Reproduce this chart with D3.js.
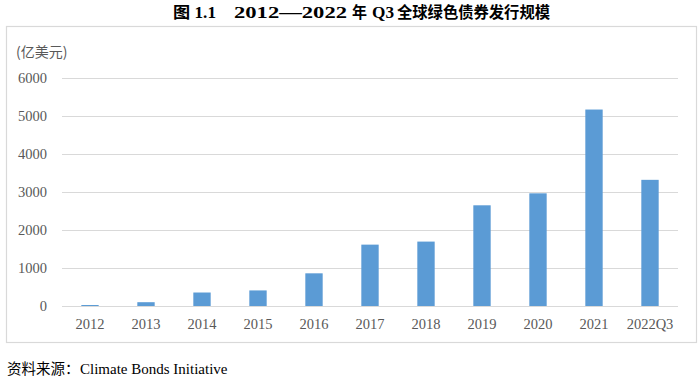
<!DOCTYPE html>
<html><head><meta charset="utf-8">
<script src="https://cdn.jsdelivr.net/npm/d3@7/dist/d3.min.js"></script>
<style>
body{margin:0;background:#fff;}
</style></head>
<body>
<svg id="c" width="700" height="381"></svg>
<script>
const categories = ["2012","2013","2014","2015","2016","2017","2018","2019","2020","2021","2022Q3"];
const values = [26, 100, 355, 410, 860, 1615, 1695, 2650, 2965, 5170, 3320];
const yTicks = [0,1000,2000,3000,4000,5000,6000];
const titleParts = ["图 1.1", "2012—2022", "年", "Q3", "全球绿色债券发行规模"];
const unitText = "(亿美元)";
const sourceCn = "资料来源：";
const sourceEn = "Climate Bonds Initiative";

const SERIF = "'Times New Roman','Liberation Serif','DejaVu Serif',serif";
const CJK = "'Noto Sans CJK SC','Noto Sans CJK JP',sans-serif";
const MIX = "'Times New Roman','Liberation Serif','Noto Sans CJK SC',serif";

const svg = d3.select("#c");
const plot = {left:62, right:678, top:78, bottom:306};

// outer box
svg.append("rect").attr("x",6.5).attr("y",26.5).attr("width",690).attr("height",316)
  .attr("fill","#fff").attr("stroke","#d9d9d9").attr("stroke-width",1.2);

// title: segments placed along the line
const titleLayout = [
  {x:173, w:43, font:MIX},
  {x:234, w:113, font:SERIF},
  {x:352, w:15, font:CJK},
  {x:372, w:22, font:SERIF},
  {x:397, w:153, font:CJK}
];
const title = svg.append("text").attr("y",18).attr("font-size",16).attr("font-weight","bold").attr("fill","#000");
title.selectAll("tspan").data(titleParts).join("tspan")
  .attr("x",(d,i)=>titleLayout[i].x)
  .attr("textLength",(d,i)=>titleLayout[i].w)
  .attr("lengthAdjust","spacingAndGlyphs")
  .style("font-family",(d,i)=>titleLayout[i].font)
  .text(d=>d);

const x = d3.scaleBand().domain(categories).range([plot.left, plot.right])
  .paddingInner(0.69).paddingOuter(0.345);
const y = d3.scaleLinear().domain([0,6000]).range([plot.bottom, plot.top]);

// gridlines
svg.append("g").selectAll("line").data(yTicks).join("line")
  .attr("x1",plot.left).attr("x2",plot.right)
  .attr("y1",d=>Math.round(y(d))+0.5).attr("y2",d=>Math.round(y(d))+0.5)
  .attr("stroke","#d9d9d9").attr("stroke-width",1.2);

// y axis labels
const yAxis = d3.axisLeft(y).tickValues(yTicks).tickFormat(d3.format("d")).tickSize(0).tickPadding(0);
const gy = svg.append("g").attr("transform",`translate(47,0)`).call(yAxis);
gy.select(".domain").remove();
gy.attr("font-family",null).attr("font-size",null);
gy.selectAll("text").style("font-family",SERIF).style("font-size","14.5px").attr("fill","#595959");

// bars
svg.append("g").selectAll("rect").data(values).join("rect")
  .attr("x",(d,i)=>x(categories[i]))
  .attr("width",x.bandwidth())
  .attr("y",d=>y(d))
  .attr("height",d=>plot.bottom - y(d))
  .attr("fill","#5b9bd5");

// x axis labels
const xAxis = d3.axisBottom(x).tickSize(0).tickPadding(0);
const gx = svg.append("g").attr("transform",`translate(0,${329})`).call(xAxis);
gx.select(".domain").remove();
gx.attr("font-family",null).attr("font-size",null);
gx.selectAll("text").attr("dy",null).style("font-family",SERIF).style("font-size","14.5px").attr("fill","#595959");

// unit label
svg.append("text").attr("x",16).attr("y",57).style("font-family",CJK).style("font-size","14px")
  .attr("fill","#595959").text(unitText);

// source
const src = svg.append("text").attr("y",374).attr("fill","#000").style("font-size","14.5px");
src.append("tspan").attr("x",7).style("font-family",CJK).text(sourceCn);
src.append("tspan").attr("x",80).style("font-family",SERIF).style("font-size","15px").text(sourceEn);
</script>
</body></html>
